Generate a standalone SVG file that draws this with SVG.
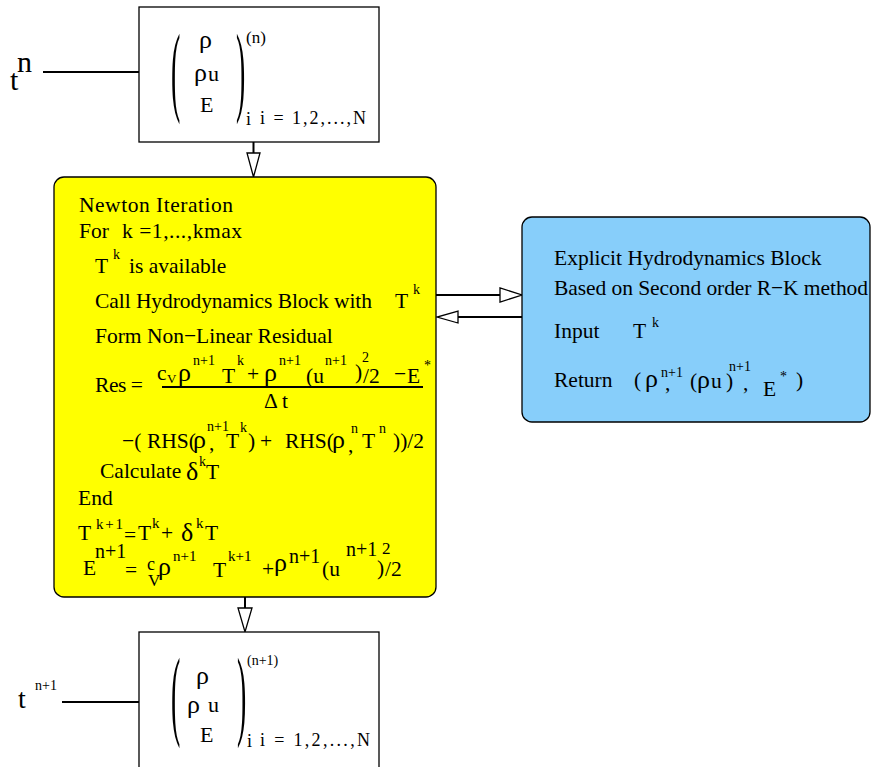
<svg xmlns="http://www.w3.org/2000/svg" width="873" height="767" viewBox="0 0 873 767">
<style>
text{font-family:"Liberation Serif","Times New Roman",serif;font-size:21.5px;fill:#000}
.s{font-size:14px}
.m{font-size:18px}
.g{font-size:22px}
.r{font-size:26px}
.p{font-size:100px}
.box{fill:#fff;stroke:#000;stroke-width:1.3}
.ln{stroke:#000;stroke-width:2;fill:none}
.head{fill:#fff;stroke:#000;stroke-width:1.3}
</style>
<rect width="873" height="767" fill="#fff"/>
<g id="connectors">
<line class="ln" x1="43" y1="72" x2="139" y2="72"/>
<line class="ln" x1="62" y1="702" x2="139" y2="702"/>
<line class="ln" x1="253.5" y1="142" x2="253.5" y2="153"/>
<polygon class="head" points="247,153 260,153 253.5,177"/>
<line class="ln" x1="245" y1="597" x2="245" y2="608"/>
<polygon class="head" points="238,608 252,608 245,632"/>
<line class="ln" x1="436" y1="295" x2="500" y2="295"/>
<polygon class="head" points="500,288 500,302 522,295"/>
<line class="ln" x1="522" y1="317" x2="458" y2="317"/>
<polygon class="head" points="458,311 458,323 437,317"/>
</g>
<g id="time-n">
<text x="10" y="90" style="font-size:30px">t</text>
<text x="17" y="72" style="font-size:30px">n</text>
</g>
<g id="state-n">
<rect class="box" x="139" y="7" width="240" height="135"/>
<text class="p" transform="translate(171 103) scale(0.28 1)">(</text>
<text class="p" transform="translate(236 103) scale(0.28 1)">)</text>
<text class="r" x="199" y="48">ρ</text>
<text class="r" x="194" y="81">ρ</text>
<text class="g" x="208" y="81">u</text>
<text class="g" x="200" y="112">E</text>
<text x="246" y="43" style="font-size:17px">(n)</text>
<text class="m" x="246" y="125">i</text>
<text class="m" x="260" y="124" textLength="106" lengthAdjust="spacing">i = 1,2,...,N</text>
</g>
<g id="newton">
<rect x="54" y="177" width="382" height="420" rx="10" fill="#ffff00" stroke="#000" stroke-width="1.3"/>
<text x="79" y="212" textLength="154" lengthAdjust="spacing">Newton Iteration</text>
<text x="79" y="238">For</text>
<text x="122" y="238" textLength="120" lengthAdjust="spacing">k =1,...,kmax</text>
<text x="95" y="273">T</text>
<text class="s" x="113" y="259">k</text>
<text x="129" y="273">is available</text>
<text x="95" y="308" textLength="277" lengthAdjust="spacing">Call Hydrodynamics Block with</text>
<text x="395" y="308">T</text>
<text class="s" x="413" y="294">k</text>
<text x="95" y="343">Form Non−Linear Residual</text>
<text x="95" y="392" textLength="48" lengthAdjust="spacing">Res =</text>
<text x="157" y="380">c</text>
<text x="167" y="383" style="font-size:13px">V</text>
<text class="r" x="178" y="381">ρ</text>
<text class="s" x="193" y="365">n+1</text>
<text x="222" y="383">T</text>
<text class="s" x="237" y="365">k</text>
<text x="247" y="381">+</text>
<text class="r" x="264" y="381">ρ</text>
<text class="s" x="279" y="365">n+1</text>
<text x="306" y="383">(u</text>
<text class="s" x="325" y="365">n+1</text>
<text x="355" y="379">)</text>
<text class="s" x="362" y="362">2</text>
<text x="363" y="383">/2</text>
<text x="394" y="381">−</text>
<text x="407" y="383">E</text>
<text class="s" x="424" y="370">*</text>
<line x1="162" y1="387" x2="423" y2="387" stroke="#000" stroke-width="2"/>
<text x="264" y="408">Δ t</text>
<text x="122" y="448">−(</text>
<text x="147" y="448">RHS(</text>
<text class="r" x="193" y="448">ρ</text>
<text class="s" x="207" y="431">n+1</text>
<text x="209" y="450">,</text>
<text x="226" y="448">T</text>
<text class="s" x="240" y="432">k</text>
<text x="248" y="448">)</text>
<text x="260" y="448">+</text>
<text x="285" y="448">RHS(</text>
<text class="r" x="332" y="448">ρ</text>
<text class="s" x="351" y="433">n</text>
<text x="348" y="452">,</text>
<text x="362" y="448">T</text>
<text class="s" x="379" y="433">n</text>
<text x="393" y="448">))/2</text>
<text x="100" y="478">Calculate</text>
<text class="r" x="186" y="480">δ</text>
<text class="s" x="199" y="466">k</text>
<text x="206" y="479">T</text>
<text x="78" y="505">End</text>
<text x="78" y="540">T</text>
<text x="96" y="529" style="font-size:15px" textLength="27" lengthAdjust="spacing">k+1</text>
<text x="124" y="542">=</text>
<text x="138" y="540">T</text>
<text x="152" y="528" style="font-size:15px">k</text>
<text x="161" y="540">+</text>
<text class="r" x="181" y="541">δ</text>
<text x="196" y="528" style="font-size:15px">k</text>
<text x="205" y="540">T</text>
<text x="83" y="575">E</text>
<text style="font-size:20px" x="95" y="558">n+1</text>
<text x="125" y="577">=</text>
<text x="147" y="570" style="font-size:18px">c</text>
<text x="148" y="586" style="font-size:17px">V</text>
<text class="r" x="158" y="575">ρ</text>
<text style="font-size:15px" x="173" y="561">n+1</text>
<text x="213" y="577">T</text>
<text style="font-size:15px" x="228" y="561">k+1</text>
<text x="262" y="576">+</text>
<text class="r" x="274" y="571">ρ</text>
<text style="font-size:20px" x="289" y="563">n+1</text>
<text x="322" y="576">(u</text>
<text style="font-size:20px" x="346" y="556">n+1</text>
<text style="font-size:17px" x="382" y="554">2</text>
<text x="377" y="575">)</text>
<text x="385" y="576">/2</text>
</g>
<g id="hydro">
<rect x="522" y="217" width="348" height="205" rx="10" fill="#87cefa" stroke="#000" stroke-width="1.3"/>
<text x="554" y="265">Explicit Hydrodynamics Block</text>
<text x="554" y="295" textLength="314" lengthAdjust="spacing">Based on Second order R−K method</text>
<text x="554" y="338">Input</text>
<text x="633" y="338">T</text>
<text class="s" x="652" y="327">k</text>
<text x="554" y="387">Return</text>
<text x="634" y="387">(</text>
<text class="r" x="645" y="387">ρ</text>
<text class="s" x="661" y="377">n+1</text>
<text x="665" y="390">,</text>
<text x="690" y="388">(</text>
<text class="r" x="697" y="388">ρ</text>
<text x="711" y="388">u</text>
<text x="726" y="388">)</text>
<text class="s" x="729" y="371">n+1</text>
<text x="743" y="390">,</text>
<text x="763" y="396">E</text>
<text class="s" x="780" y="381">*</text>
<text x="796" y="387">)</text>
</g>
<g id="time-n1">
<text x="18" y="708" style="font-size:28px">t</text>
<text class="s" x="35" y="690">n+1</text>
</g>
<g id="state-n1">
<rect class="box" x="139" y="632" width="240" height="140"/>
<text class="p" transform="translate(171 727) scale(0.28 1)">(</text>
<text class="p" transform="translate(237 727) scale(0.28 1)">)</text>
<text class="r" x="196" y="684">ρ</text>
<text class="r" x="187" y="713">ρ</text>
<text class="g" x="208" y="712">u</text>
<text class="g" x="200" y="742">E</text>
<text class="s" x="247" y="665">(n+1)</text>
<text class="m" x="247" y="747">i</text>
<text class="m" x="260" y="746" textLength="110" lengthAdjust="spacing">i = 1,2,...,N</text>
</g>
</svg>
